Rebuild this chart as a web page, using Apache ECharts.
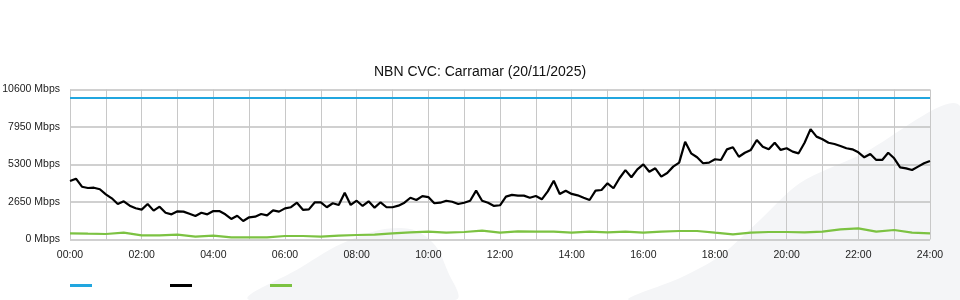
<!DOCTYPE html>
<html>
<head>
<meta charset="utf-8">
<script src="https://cdn.jsdelivr.net/npm/echarts@6/dist/echarts.min.js"></script>
<style>html,body{margin:0;padding:0;background:#fff;}#c{width:960px;height:300px;}</style>
</head>
<body>
<div id="c"></div>
<script>
// Black series: 10-minute samples from 00:00 to 24:00 (Mbps)
const trafficValues = [
4130,4300,3730,3640,3660,3550,3190,2910,2510,2700,2390,2210,
2110,2510,2040,2320,1890,1780,1990,1970,1820,1660,1890,1780,
2010,2010,1780,1450,1680,1310,1570,1610,1800,1710,2060,1970,
2200,2280,2600,2100,2130,2630,2630,2280,2560,2440,3310,2440,
2740,2370,2700,2250,2630,2280,2280,2390,2600,2950,2790,3070,
3000,2560,2600,2740,2670,2510,2600,2740,3450,2740,2600,2370,
2420,3030,3150,3100,3100,2950,3070,2840,3400,4150,3220,3450,
3220,3120,2950,2790,3450,3500,3970,3620,4330,4900,4400,4960,
5310,4790,5030,4440,4700,5150,5430,6900,6090,5810,5390,5430,
5670,5620,6370,6520,5850,6130,6330,7030,6560,6370,6840,6330,
6450,6210,6090,6840,7800,7270,7080,6840,6750,6610,6450,6370,
6160,5810,6040,5620,5620,6130,5740,5100,5030,4910,5150,5390,
5550
];
// Green series: 30-minute samples (Mbps)
const uploadValues = [
438,410,389,481,297,297,339,198,269,150,155,155,
247,247,198,269,318,339,438,509,551,481,530,622,
481,580,551,560,481,551,509,551,481,551,600,600,
481,367,481,530,530,509,551,721,791,551,671,481,
438
];
// Blue series: capacity line (Mbps)
const capacityTimes = [0, 24];
const capacityValues = [10000, 10000];
const yTicks = [0, 2650, 5300, 7950, 10600];
const title = 'NBN CVC: Carramar (20/11/2025)';

const trafficData = trafficValues.map((v, i) => [i / 6, v]);
const uploadData = uploadValues.map((v, i) => [i / 2, v]);
const capacityData = capacityValues.map((v, i) => [capacityTimes[i], v]);

const chart = echarts.init(document.getElementById('c'), null, {renderer: 'canvas'});
const font = '"Liberation Sans", Arial, sans-serif';
chart.setOption({
  animation: false,
  backgroundColor: '#ffffff',
  textStyle: {fontFamily: font},
  title: {
    text: title, left: 'center', top: 60,
    textStyle: {fontFamily: font, fontSize: 14, fontWeight: 'normal', color: '#111'}
  },
  graphic: [
    {type: 'polygon', z: -100, silent: true,
     shape: {points: [[630,300],[680,278],[720,256],[760,220],[800,183],[860,155],[960,106],[960,300]], smooth: 0.3},
     style: {fill: '#f4f5f7'}},
    {type: 'polygon', z: -100, silent: true,
     shape: {points: [[250,300],[300,268],[350,240],[400,228],[430,240],[448,272],[455,300]], smooth: 0.4},
     style: {fill: '#f4f5f7'}}
  ],
  legend: {
    left: 65, top: 279, padding: 5, icon: 'rect', itemWidth: 22, itemHeight: 3, itemGap: 78,
    formatter: () => '', textStyle: {fontSize: 1},
    data: ['Capacity', 'Traffic', 'Upload']
  },
  grid: {left: 70, right: 30, top: 89.5, bottom: 60.5, containLabel: false, outerBoundsMode: 'none'},
  xAxis: {
    type: 'value', min: 0, max: 24, interval: 1,
    axisLine: {show: false}, axisTick: {show: false},
    axisLabel: {
      margin: 10, fontSize: 10.5, color: '#222', fontFamily: font,
      formatter: v => (v % 2 === 0 ? String(v).padStart(2, '0') + ':00' : '')
    },
    splitLine: {show: true, lineStyle: {color: '#c8c8c8', width: 1}}
  },
  yAxis: {
    type: 'value', min: yTicks[0], max: yTicks[yTicks.length - 1], interval: yTicks[1] - yTicks[0],
    axisLine: {show: false}, axisTick: {show: false},
    axisLabel: {margin: 10, fontSize: 10.5, color: '#222', fontFamily: font, formatter: v => v + ' Mbps'},
    splitLine: {show: true, lineStyle: {color: '#c0c0c0', width: 1.5}}
  },
  series: [
    {name: 'Capacity', type: 'line', data: capacityData, showSymbol: false, symbol: 'none',
     lineStyle: {color: '#21a6df', width: 2}, itemStyle: {color: '#21a6df'}},
    {name: 'Traffic', type: 'line', data: trafficData, showSymbol: false, symbol: 'none',
     lineStyle: {color: '#000000', width: 2.2}, itemStyle: {color: '#000000'}},
    {name: 'Upload', type: 'line', data: uploadData, showSymbol: false, symbol: 'none',
     lineStyle: {color: '#7cc242', width: 2.2}, itemStyle: {color: '#7cc242'}}
  ]
});
</script>
</body>
</html>
